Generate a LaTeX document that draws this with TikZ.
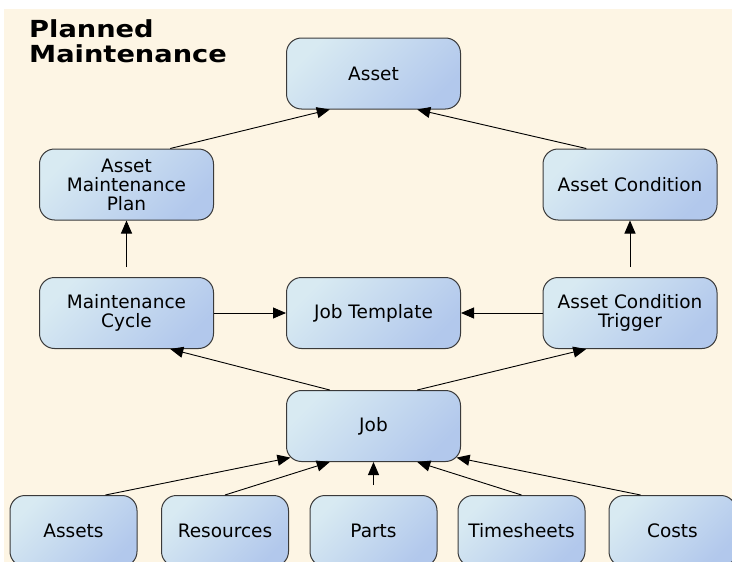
\documentclass[tikz,border=0pt]{standalone}
\usepackage{fontspec}
\setmainfont{DejaVu Sans}
\newfontfamily\titlefont[FakeStretch=1.16]{DejaVu Sans}
\usetikzlibrary{arrows.meta,calc}
\definecolor{cream}{HTML}{FDF5E4}
\definecolor{boxlight}{HTML}{D8EAF2}
\definecolor{boxdark}{HTML}{B2C8EC}
\definecolor{boxline}{HTML}{3A3A3A}
\tikzset{
  box/.style={draw=boxline, line width=1pt, rounded corners=15pt,
    top color=boxlight, bottom color=boxdark, shading angle=45,
    minimum width=174pt, minimum height=71pt, inner sep=2pt,
    align=center, font=\fontsize{18.5}{19}\selectfont, text=black},
  smallbox/.style={box, minimum width=127pt},
  link/.style={draw=black, line width=0.9pt, -{Triangle[length=13pt,width=11pt]}}
}
\begin{document}
\begin{tikzpicture}[x=1pt,y=-1pt]
\useasboundingbox (0,0) rectangle (732,562);
\clip (0,0) rectangle (732,562);
\fill[white] (0,0) rectangle (732,562);
\fill[cream] (4,9) rectangle (732,562);
\node[anchor=north west, inner sep=0pt, align=left,
  font=\titlefont\bfseries\fontsize{23.5}{25}\selectfont] (title) at (29,19) {Planned\\Maintenance};

\node[box] (asset) at (373.5,73.5) {Asset};
\node[box] (amp) at (126.5,184.5) {Asset\\Maintenance\\Plan};
\node[box] (ac) at (630,184.5) {Asset Condition};
\node[box] (mc) at (126.5,313) {Maintenance\\Cycle};
\node[box] (jt) at (373.5,313) {Job Template};
\node[box] (act) at (630,313) {Asset Condition\\Trigger};
\node[box] (job) at (373.5,426) {Job};
\node[smallbox] (assets) at (73.5,531) {Assets};
\node[smallbox] (res) at (225,531) {Resources};
\node[smallbox] (parts) at (373.5,531) {Parts};
\node[smallbox] (ts) at (521.5,531) {Timesheets};
\node[smallbox] (costs) at (672.5,531) {Costs};

\coordinate (mcstart) at ($(mc.north)+(0,-10)$);
\coordinate (actstart) at ($(act.north)+(0,-10)$);
\coordinate (partsstart) at ($(parts.north)+(0,-10)$);
\coordinate (jobsw) at ($(job.south west)+(4.4,-4.4)$);
\coordinate (jobse) at ($(job.south east)+(-4.4,-4.4)$);

\draw[link] ($(amp.north)!0.5!(amp.north east)$) -- ($(asset.south west)!0.5!(asset.south)$);
\draw[link] ($(ac.north west)!0.5!(ac.north)$) -- ($(asset.south)!0.5!(asset.south east)$);
\draw[link] (mcstart) -- (amp.south);
\draw[link] (actstart) -- (ac.south);
\draw[link] (mc.east) -- (jt.west);
\draw[link] (act.west) -- (jt.east);
\draw[link] ($(job.north west)!0.5!(job.north)$) -- ($(mc.south)!0.5!(mc.south east)$);
\draw[link] ($(job.north)!0.5!(job.north east)$) -- ($(act.south west)!0.5!(act.south)$);
\draw[link] ($(assets.north)!0.5!(assets.north east)$) -- (jobsw);
\draw[link] (res.north) -- ($(job.south west)!0.5!(job.south)$);
\draw[link] (partsstart) -- (job.south);
\draw[link] (ts.north) -- ($(job.south)!0.5!(job.south east)$);
\draw[link] ($(costs.north west)!0.5!(costs.north)$) -- (jobse);
\end{tikzpicture}
\end{document}
